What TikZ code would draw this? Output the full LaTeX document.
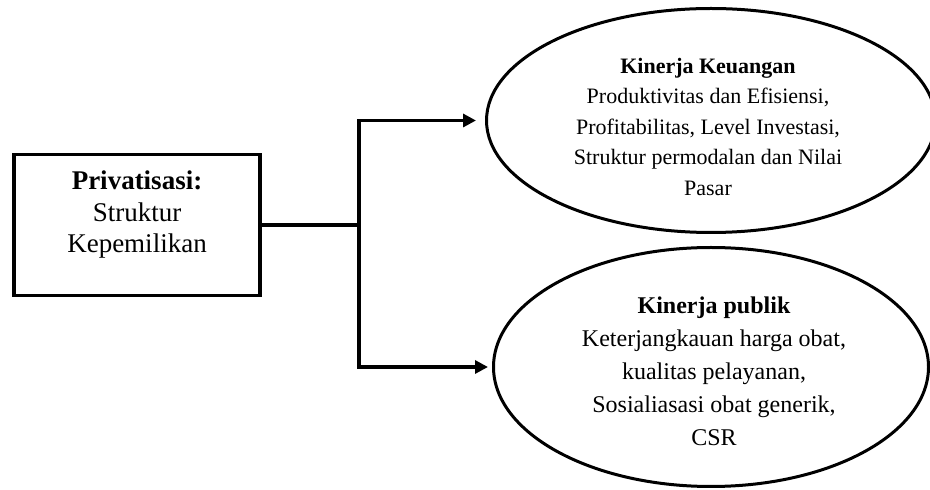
\documentclass[tikz,border=0pt]{standalone}
\usepackage{fontspec}
\setmainfont{Liberation Serif}
\usepackage{tikz}
\usetikzlibrary{positioning}
\usetikzlibrary{shapes.geometric}
\usetikzlibrary{arrows.meta}

\begin{document}
\begin{tikzpicture}
  [
    x=1pt, y=1pt,
    box/.style={draw=black, line width=3.2pt, minimum width=246pt,
      minimum height=141pt, inner sep=0pt},
    oval/.style={ellipse, draw=black, line width=3pt, inner sep=0pt},
    lbl/.style={align=center, inner sep=0pt},
    conn/.style={draw=black, line width=3.2pt},
    arr/.style={conn, -{Triangle[length=13pt,width=13pt]}}
  ]

  \useasboundingbox (0,0) rectangle (930,490);

  \node (priv) at (137,265) [box] {};
  \node (keu)  at (711,369.5) [oval, minimum width=449pt, minimum height=224pt] {};
  \node (pub)  at (711,123) [oval, minimum width=435pt, minimum height=239pt] {};

  \node (privtext) at ([yshift=10pt]priv.center)
    [lbl, font=\fontsize{27}{31.5}\selectfont]
    {\textbf{Privatisasi:}\\Struktur\\Kepemilikan};
  \node (keutext) at ([yshift=-6pt, xshift=-3pt]keu.center)
    [lbl, font=\fontsize{22}{30.5}\selectfont]
    {\textbf{Kinerja Keuangan}\\Produktivitas dan Efisiensi,\\
     Profitabilitas, Level Investasi,\\Struktur permodalan dan Nilai\\Pasar};
  \node (pubtext) at ([yshift=-4pt, xshift=3pt]pub.center)
    [lbl, font=\fontsize{24}{33}\selectfont]
    {\textbf{Kinerja publik}\\Keterjangkauan harga obat,\\
     kualitas pelayanan,\\Sosialiasasi obat generik,\\CSR};

  \coordinate (split) at (359,265);

  \draw [conn] (priv.east) -- (split);

  \draw [arr, shorten >=9pt]
    (split) |- (keu.west);

  \draw [arr, shorten >=4pt]
    (split) |- (pub.west);
\end{tikzpicture}
\end{document}
